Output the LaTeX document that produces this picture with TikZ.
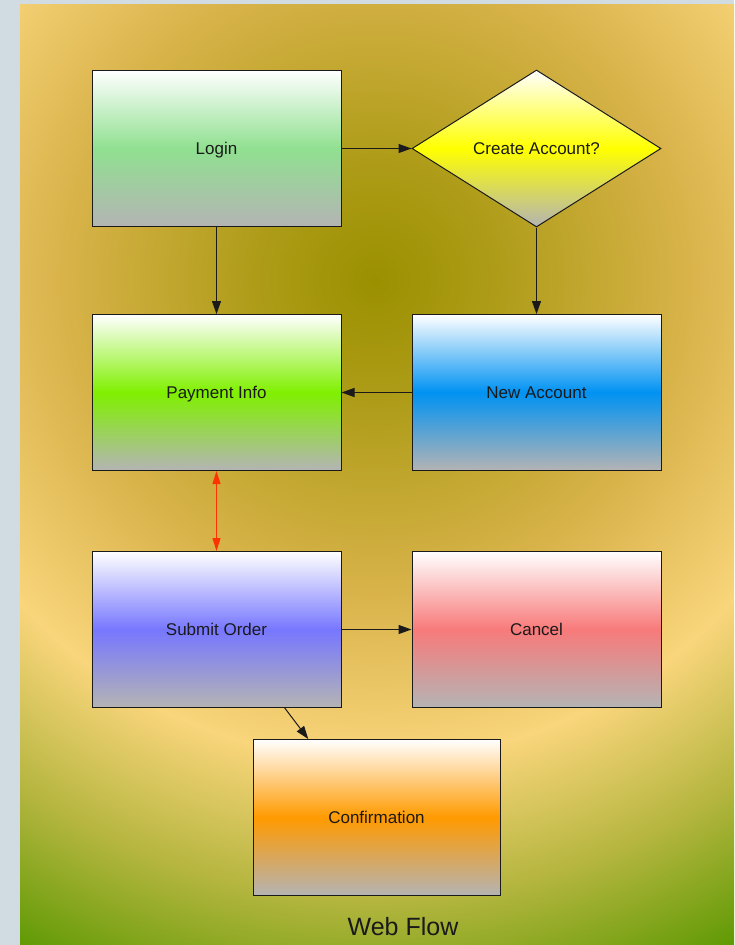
\documentclass[tikz,border=0pt]{standalone}
\usepackage{fontspec}
\setmainfont{Liberation Sans}
\usetikzlibrary{shapes.geometric,arrows.meta}

% colours of the backdrop glow
\definecolor{glowA}{HTML}{9A9000}
\definecolor{glowB}{HTML}{AE9C18}
\definecolor{glowC}{HTML}{DAB44C}
\definecolor{glowD}{HTML}{F9D57B}
\definecolor{glowE}{HTML}{B6B640}
\definecolor{glowF}{HTML}{5A9800}
\definecolor{frame}{HTML}{D0DBE2}
\definecolor{boxgray}{HTML}{B4B4B4}
\definecolor{ink}{HTML}{1A1A1A}
% box fill colours
\definecolor{loginfill}{HTML}{90E090}
\definecolor{askfill}{HTML}{FFFF00}
\definecolor{payfill}{HTML}{80F000}
\definecolor{newfill}{HTML}{0092F2}
\definecolor{submitfill}{HTML}{7777FF}
\definecolor{cancelfill}{HTML}{F87A7A}
\definecolor{confirmfill}{HTML}{FF9A00}
\definecolor{linkred}{HTML}{FF3300}

% radial glow, radii given at their real size
\pgfdeclareradialshading{panelglow}{\pgfpoint{0bp}{0bp}}{%
  color(0bp)=(glowA); color(120bp)=(glowB); color(320bp)=(glowC);
  color(478bp)=(glowD); color(615bp)=(glowE); color(760bp)=(glowF)}

\tikzset{
  stepbox/.style={draw=ink, line width=1pt, rectangle, minimum width=249pt,
    minimum height=156pt, inner sep=0pt, font=\fontsize{17}{20}\selectfont,
    text height=12.2pt, text depth=0pt,
    text=ink, top color=white, bottom color=boxgray, middle color=#1},
  choice/.style={draw=ink, line width=1pt, diamond, minimum width=249pt,
    minimum height=157pt, inner sep=0pt, font=\fontsize{17}{20}\selectfont,
    text height=12.2pt, text depth=0pt,
    text=ink, top color=white, bottom color=boxgray, middle color=#1},
  flow/.style={draw=ink, line width=1pt, -{Triangle[length=13pt,width=9pt]}},
  both/.style={draw=#1, line width=1pt,
    {Triangle[length=13pt,width=8pt]}-{Triangle[length=13pt,width=8pt]}},
}

\begin{document}
\begin{tikzpicture}[x=1pt,y=-1pt]
  \useasboundingbox (0,0) rectangle (734,945);
  \fill[frame] (0,0) rectangle (734,945);

  % glowing panel behind the flow
  \begin{scope}
    \clip (20,4) rectangle (734,945);
    \pgftransformshift{\pgfpointxy{375}{280}}
    \pgflowlevelsynccm
    \pgfuseshading{panelglow}
  \end{scope}

  % steps
  \node[stepbox=loginfill]  (login)   at (216.5,148.5) {Login};
  \node[choice=askfill]     (create)  at (536.5,148.5) {Create Account?};
  \node[stepbox=payfill]    (payment) at (216.5,392.5) {Payment Info};
  \node[stepbox=newfill]    (newacc)  at (536.5,392.5) {New Account};
  \node[stepbox=submitfill] (submit)  at (216.5,629.5) {Submit Order};
  \node[stepbox=cancelfill] (cancel)  at (536.5,629.5) {Cancel};
  \node[stepbox=confirmfill, minimum width=247pt] (confirm) at (376.5,817.5) {Confirmation};

  % connectors
  \draw[flow] (login.east) -- (create.west);
  \draw[flow] (login.south) -- (payment.north);
  \draw[flow] (create.south) -- (newacc.north);
  \draw[flow] (newacc.west) -- (payment.east);
  \draw[both=linkred] (payment.south) -- (submit.north);
  \draw[flow] (submit.east) -- (cancel.west);
  \draw[flow] (submit.-49) -- (confirm.131);

  % title
  \node[font=\fontsize{25}{28}\selectfont, text=ink] (title) at (403,927) {Web Flow};
\end{tikzpicture}
\end{document}
